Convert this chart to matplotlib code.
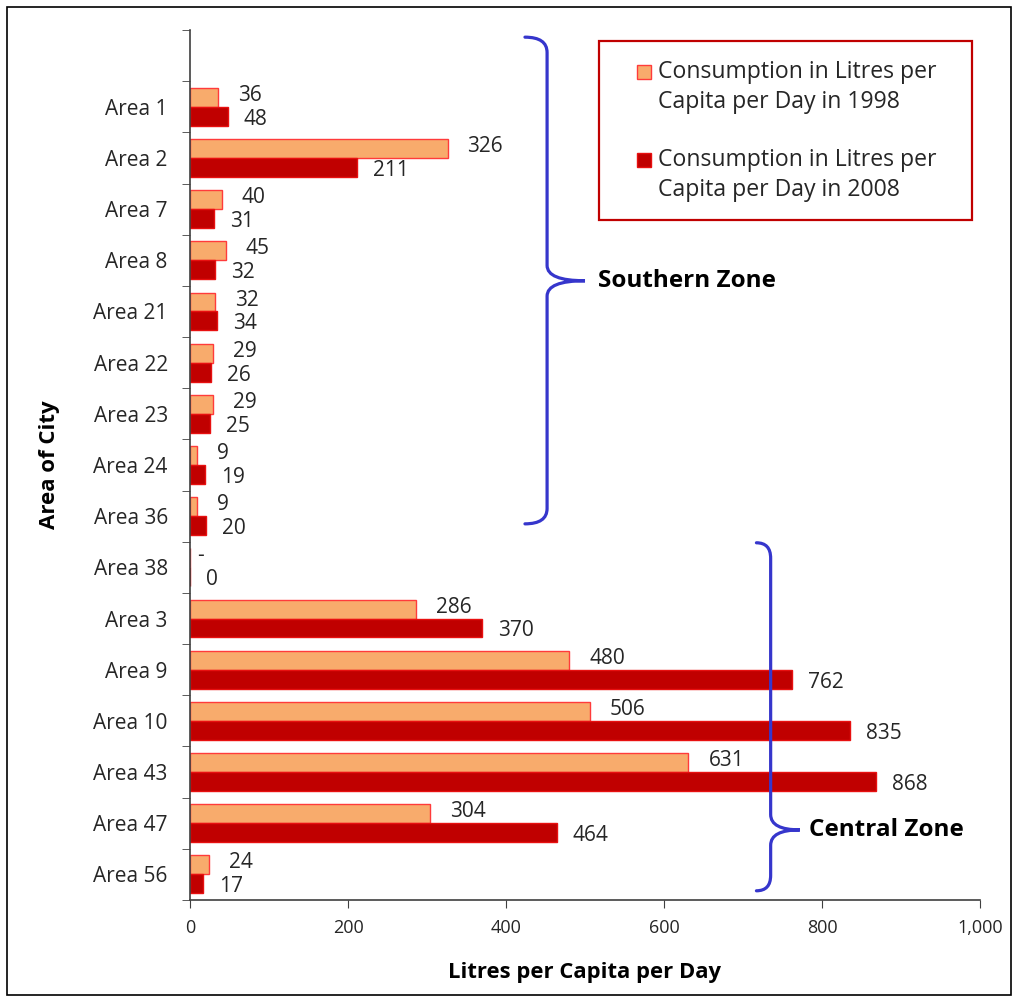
import numpy as np
import matplotlib
matplotlib.use("Agg")
import matplotlib.pyplot as plt
from matplotlib.path import Path
from matplotlib.patches import PathPatch, Rectangle

plt.rcParams["font.family"] = ["Open Sans", "DejaVu Sans"]

# ---------------------------------------------------
# Data
# ---------------------------------------------------
areas = ["", "Area 1", "Area 2", "Area 7", "Area 8", "Area 21", "Area 22",
         "Area 23", "Area 24", "Area 36", "Area 38", "Area 3", "Area 9",
         "Area 10", "Area 43", "Area 47", "Area 56"]
use_1998 = [np.nan, 36, 326, 40, 45, 32, 29, 29, 9, 9, 0, 286, 480, 506,
            631, 304, 24]
use_2008 = [np.nan, 48, 211, 31, 32, 34, 26, 25, 19, 20, 0, 370, 762, 835,
            868, 464, 17]
label_1998 = "Consumption in Litres per\nCapita per Day in 1998"
label_2008 = "Consumption in Litres per\nCapita per Day in 2008"
x_ticks = [0, 200, 400, 600, 800, 1000]

W, H = 1018, 1001
TXT = "#262626"
ORANGE = "#F8AB6C"
ORANGE_EDGE = "#FF3B3B"
DARKRED = "#C00000"
DARKRED_EDGE = "#E81010"
BLUE = "#3636CC"


def px(x, y):
    # pixel position (top-left origin) -> figure fraction
    return x / W, 1 - y / H


fig = plt.figure(figsize=(W / 100, H / 100), dpi=100)
ax = fig.add_axes([190 / W, 1 - 900 / H, 790 / W, 870 / H])

y = np.arange(len(areas))
bh = 0.37

ax.barh(y - bh / 2, use_1998, height=bh, color=ORANGE,
        edgecolor=ORANGE_EDGE, linewidth=1)
ax.barh(y + bh / 2, use_2008, height=bh, color=DARKRED,
        edgecolor=DARKRED_EDGE, linewidth=1)

# value labels
for yi, v in zip(y, use_1998):
    if np.isnan(v):
        continue
    txt = "-" if v == 0 else f"{v:.0f}"
    off = 7 if v == 0 else 20
    ax.annotate(txt, (v, yi - bh / 2), xytext=(off, 2),
                textcoords="offset pixels", ha="left", va="center",
                fontsize=15, color=TXT)
for yi, v in zip(y, use_2008):
    if np.isnan(v):
        continue
    ax.annotate(f"{v:.0f}", (v, yi + bh / 2), xytext=(16, -3),
                textcoords="offset pixels", ha="left", va="center",
                fontsize=15, color=TXT)

# ---------------------------------------------------
# Axes styling
# ---------------------------------------------------
ax.set_xlim(0, 1000)
ax.set_ylim(len(areas) - 0.5, -0.5)
ax.set_xticks(x_ticks)
ax.set_xticklabels([f"{t:,}" for t in x_ticks], fontsize=13, color=TXT)
ax.set_yticks(y)
ax.set_yticklabels(areas, fontsize=15, color=TXT)
ax.set_yticks(np.arange(-0.5, len(areas), 1.0), minor=True)
ax.tick_params(axis="y", which="major", length=0, pad=16)
ax.tick_params(axis="y", which="minor", length=6, color="#404040",
               direction="out")
ax.tick_params(axis="x", length=6, color="#404040", direction="out", pad=8)
for s in ["top", "right"]:
    ax.spines[s].set_visible(False)
for s in ["left", "bottom"]:
    ax.spines[s].set_color("#404040")
    ax.spines[s].set_linewidth(1.2)

ax.set_xlabel("Litres per Capita per Day", fontsize=15.8, fontweight="bold",
              color="black", labelpad=18)
ax.set_ylabel("Area of City", fontsize=16, fontweight="bold",
              color="black", labelpad=24)


# ---------------------------------------------------
# Curly braces for zones
# ---------------------------------------------------
def brace(x_end, x_mid, x_tip, y_top, y_tip, y_bot, ry):
    verts = [
        (x_end, y_top), (x_mid, y_top), (x_mid, y_top + ry),
        (x_mid, y_tip - ry),
        (x_mid, y_tip), (x_tip, y_tip),
        (x_mid, y_tip), (x_mid, y_tip + ry),
        (x_mid, y_bot - ry),
        (x_mid, y_bot), (x_end, y_bot),
    ]
    codes = [Path.MOVETO, Path.CURVE3, Path.CURVE3, Path.LINETO,
             Path.CURVE3, Path.CURVE3, Path.CURVE3, Path.CURVE3,
             Path.LINETO, Path.CURVE3, Path.CURVE3]
    ax.add_patch(PathPatch(Path(verts, codes), fill=False, edgecolor=BLUE,
                           linewidth=2.3, clip_on=False, capstyle="round"))


brace(424, 452, 500, -0.36, 4.40, 9.15, 0.3)
brace(717, 735, 772, 9.52, 15.13, 16.32, 0.3)

ax.text(517, 4.40, "Southern Zone", fontsize=17.5, fontweight="bold",
        color="black", va="center", ha="left")
ax.text(783, 15.13, "Central Zone", fontsize=17.5, fontweight="bold",
        color="black", va="center", ha="left")

# ---------------------------------------------------
# Legend box
# ---------------------------------------------------
lx0, ly0 = px(599, 220)
lx1, ly1 = px(972, 41)
fig.patches.append(Rectangle((lx0, ly0), lx1 - lx0, ly1 - ly0,
                             transform=fig.transFigure, fill=False,
                             edgecolor=DARKRED, linewidth=1.6))
for lab, fc, ec, ytop in [(label_1998, ORANGE, ORANGE_EDGE, 72),
                          (label_2008, DARKRED, DARKRED_EDGE, 160)]:
    sx, sy = px(637, ytop + 7)
    fig.patches.append(Rectangle((sx, sy), 14 / W, 14 / H,
                                 transform=fig.transFigure, facecolor=fc,
                                 edgecolor=ec, linewidth=1))
    tx, ty = px(658, ytop + 15)
    fig.text(tx, ty, lab, fontsize=16.6, color=TXT, ha="left", va="center",
             linespacing=1.32)

# outer border
fig.patches.append(Rectangle(px(7, 995), 1004 / W, 988 / H,
                             transform=fig.transFigure, fill=False,
                             edgecolor="black", linewidth=1.2))

fig.savefig("out.png", dpi=100)
